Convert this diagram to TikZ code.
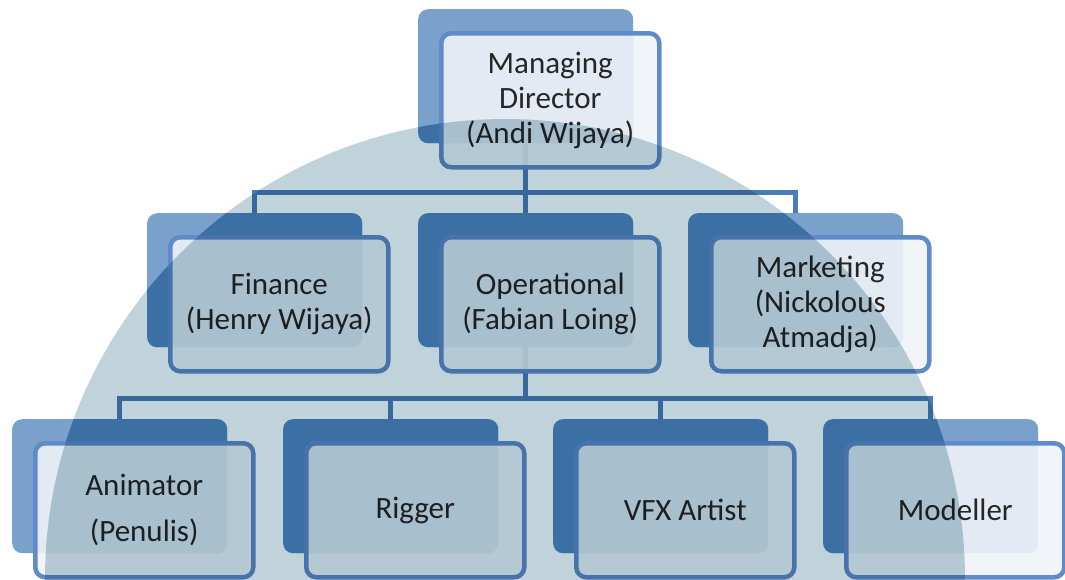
\documentclass[tikz,border=0pt]{standalone}
\usepackage{fontspec}
\setmainfont{Carlito}
\usetikzlibrary{positioning,calc}
\definecolor{bggray}{HTML}{C1D3DA}
\definecolor{backblue}{HTML}{7AA1CC}
\definecolor{backtint}{HTML}{A8D8F0}
\definecolor{frontfill}{HTML}{EFF3F8}
\definecolor{frontline}{HTML}{5F8CC8}
\definecolor{linkblue}{HTML}{4A7DB6}

\begin{document}
\begin{tikzpicture}[x=1pt, y=-1pt,
    back/.style={fill=backblue, rounded corners=10pt, minimum width=215pt, minimum height=134pt, inner sep=0pt, anchor=north west},
    front/.style={draw=frontline, line width=4.5pt, fill=frontfill, fill opacity=0.9, text opacity=1, rounded corners=10pt, minimum width=218pt, minimum height=134pt, inner sep=0pt, align=center, anchor=north west, text=black!85, font=\fontsize{31}{35}\selectfont},
    link/.style={draw=linkblue, line width=5.5pt}
]
\useasboundingbox (0,0) rectangle (1065,579);
\clip (0,0) rectangle (1065,579);

% Back boxes
\node[back] (md) at (418,9) {};
\node[back] (fin) at (147,213) {};
\node[back] (ops) at (418,213) {};
\node[back] (mkt) at (688,213) {};
\node[back] (anim) at (12,419) {};
\node[back] (rig) at (283,419) {};
\node[back] (vfx) at (553,419) {};
\node[back] (mod) at (823,419) {};

% darker blue where the back boxes lie on the half disc
\begin{scope}
\clip (505,579) circle[radius=460pt];
\foreach \n in {md,fin,ops,mkt,anim,rig,vfx,mod}
    \fill[backtint, blend mode=multiply, rounded corners=10pt] (\n.north west) rectangle (\n.south east);
\end{scope}

% Connectors between levels
\draw[link] (md.south) -- ++(0,49) -| (fin.north);
\draw[link] (md.south) -- (ops.north);
\draw[link] (md.south) -- ++(0,49) -| (mkt.north);
\draw[link] (ops.south) -- ++(0,51) -| (anim.north);
\draw[link] (ops.south) -- ++(0,51) -| (rig.north);
\draw[link] (ops.south) -- ++(0,51) -| (vfx.north);
\draw[link] (ops.south) -- ++(0,51) -| (mod.north);

% Front boxes with the names
\node[front] (mdF) at ([shift={(21,22)}]md.north west) {Managing\\Director\\(Andi Wijaya)};
\node[front] (finF) at ([shift={(21,22)}]fin.north west) {Finance\\(Henry Wijaya)};
\node[front] (opsF) at ([shift={(21,22)}]ops.north west) {Operational\\(Fabian Loing)};
\node[front] (mktF) at ([shift={(21,22)}]mkt.north west) {Marketing\\(Nickolous\\Atmadja)};
\node[front] (animF) at ([shift={(21,22)}]anim.north west) {Animator\\[11pt](Penulis)};
\node[front] (rigF) at ([shift={(21,22)}]rig.north west) {Rigger};
\node[front] (vfxF) at ([shift={(21,22)}]vfx.north west) {VFX Artist};
\node[front] (modF) at ([shift={(21,22)}]mod.north west) {Modeller};

% Gray half disc over everything
\begin{scope}[blend mode=multiply]
\fill[bggray] (505,579) circle[radius=460pt];
\end{scope}

\end{tikzpicture}
\end{document}
